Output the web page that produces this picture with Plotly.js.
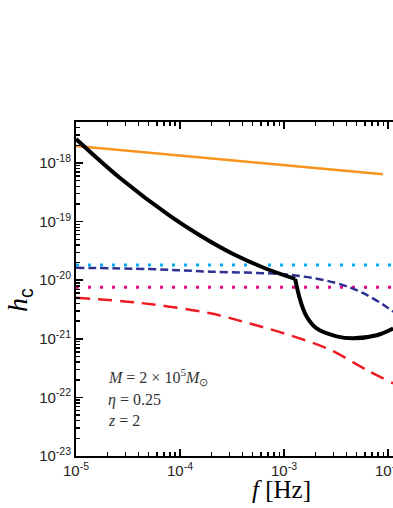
<!DOCTYPE html>
<html>
<head>
<meta charset="utf-8">
<script src="https://cdn.plot.ly/plotly-3.0.1.min.js"></script>
<style>
  body { margin: 0; padding: 0; background: #fff; }
  #plot { width: 393px; height: 508px; }
</style>
</head>
<body>
<div id="plot"></div>
<script>
// values
let orangeF = [1e-5, 1e-4, 1e-3, 8.95e-3];
let orangeH = [1.95e-18, 1.34e-18, 9.2e-19, 6.45e-19];

// black curve: smooth part down to the kink, then the dip
let blackTopF = [1e-5, 2.65e-5, 8.0e-5, 1.56e-4, 3.24e-4, 6.56e-4, 1.28e-3];
let blackTopH = [2.57e-18, 5.55e-19, 1.25e-19, 5.8e-20, 2.8e-20, 1.6e-20, 1.05e-20];
let blackLowF = [1.28e-3, 1.43e-3, 1.65e-3, 2.06e-3, 3.2e-3, 4.6e-3, 7.8e-3, 1.12e-2];
let blackLowH = [1.05e-20, 4.6e-21, 2.4e-21, 1.5e-21, 1.1e-21, 1.02e-21, 1.15e-21, 1.5e-21];

let cyanF = [1e-5, 1.2e-2];
let cyanH = [1.82e-20, 1.82e-20];

let navyF = [1e-5, 5e-5, 1.95e-4, 1.15e-3, 3.2e-3, 5.8e-3, 9.7e-3, 1.12e-2];
let navyH = [1.63e-20, 1.55e-20, 1.4e-20, 1.23e-20, 8.9e-21, 6.0e-21, 3.5e-21, 2.9e-21];

let magentaF = [1e-5, 1.2e-2];
let magentaH = [7.6e-21, 7.6e-21];

let redF = [1e-5, 4.1e-5, 1.95e-4, 4.7e-4, 1.14e-3, 2.77e-3, 6.2e-3, 1.12e-2];
let redH = [5.0e-21, 4.1e-21, 2.72e-21, 1.82e-21, 1.15e-21, 6.5e-22, 2.95e-22, 1.74e-22];

let xDecades = [-5, -4, -3, -2];
let yDecades = [-23, -22, -21, -20, -19, -18];

// decade ticks get a label, 2..9 in between get none
function tickSet(decades) {
    let vals = [], text = [];
    for (let i = 0; i < decades.length; i++) {
        let k = decades[i];
        vals.push(Math.pow(10, k));
        text.push("10<sup>" + k + "</sup>");
        for (let m = 2; m <= 9; m++) {
            vals.push(m * Math.pow(10, k));
            text.push("");
        }
    }
    return { vals: vals, text: text };
}
let xT = tickSet(xDecades);
let yT = tickSet(yDecades);
let xMajor = xDecades.map(k => Math.pow(10, k));
let yMajor = yDecades.map(k => Math.pow(10, k));

let trace1 = { x: orangeF, y: orangeH, type: "scatter", mode: "lines", line: {color: "#F7941D", width: 2.5} };
let trace2 = { x: cyanF, y: cyanH, type: "scatter", mode: "lines", line: {color: "#00AEEF", width: 3, dash: "3px,9px"} };
let trace3 = { x: magentaF, y: magentaH, type: "scatter", mode: "lines", line: {color: "#EC008C", width: 3, dash: "3px,9px"} };
let trace4 = { x: navyF, y: navyH, type: "scatter", mode: "lines", line: {color: "#2E3192", width: 2.5, dash: "8px,4px", shape: "spline"} };
let trace5 = { x: redF, y: redH, type: "scatter", mode: "lines", line: {color: "#ED1C24", width: 2.5, dash: "14px,8px", shape: "spline"} };
let trace6 = { x: blackTopF, y: blackTopH, type: "scatter", mode: "lines", line: {color: "#000000", width: 4, shape: "spline"} };
let trace7 = { x: blackLowF, y: blackLowH, type: "scatter", mode: "lines", line: {color: "#000000", width: 4, shape: "spline"} };
// carries the longer decade ticks
let trace8 = { x: orangeF, y: orangeH, xaxis: "x2", yaxis: "y2", type: "scatter", mode: "lines", opacity: 0, hoverinfo: "skip" };

let serif = "Liberation Serif, Times New Roman, serif";
let sans = "Liberation Sans, Arial, sans-serif";

let layout = {
    width: 393, height: 508,
    margin: { l: 76, r: 0, t: 122, b: 52 },
    showlegend: false,
    paper_bgcolor: "#fff", plot_bgcolor: "#fff",
    font: { family: sans, size: 15, color: "#222" },
    xaxis: {
        type: "log", range: [-5, -1.952],
        showline: true, linecolor: "#000", linewidth: 2, mirror: "ticks",
        ticks: "inside", ticklen: 4, tickwidth: 1.5, tickcolor: "#000",
        tickmode: "array", tickvals: xT.vals, ticktext: xT.text,
        tickfont: { family: sans, size: 15, color: "#222" }, ticklabeloverflow: "allow",
        showgrid: false, zeroline: false
    },
    yaxis: {
        type: "log", range: [-23, -17.3],
        showline: true, linecolor: "#000", linewidth: 2, mirror: false,
        ticks: "inside", ticklen: 4, tickwidth: 1.5, tickcolor: "#000",
        tickmode: "array", tickvals: yT.vals, ticktext: yT.text,
        tickfont: { family: sans, size: 15, color: "#222" },
        showgrid: false, zeroline: false
    },
    xaxis2: {
        type: "log", range: [-5, -1.952], overlaying: "x", anchor: "y",
        showline: false, mirror: "ticks",
        ticks: "inside", ticklen: 7, tickwidth: 1.6, tickcolor: "#000",
        tickmode: "array", tickvals: xMajor, showticklabels: false,
        showgrid: false, zeroline: false
    },
    yaxis2: {
        type: "log", range: [-23, -17.3], overlaying: "y", anchor: "x", side: "left",
        showline: false, mirror: false,
        ticks: "inside", ticklen: 7, tickwidth: 1.6, tickcolor: "#000",
        tickmode: "array", tickvals: yMajor, showticklabels: false,
        showgrid: false, zeroline: false
    },
    annotations: [
        { text: "<i>h</i><sub><span style=\"font-family:Liberation Sans\">c</span></sub>", xref: "paper", yref: "paper",
          x: -0.18, y: 0.467, xanchor: "center", yanchor: "middle", textangle: -90, showarrow: false,
          font: { family: serif, size: 28, color: "#000" } },
        { text: "<i>f</i> [Hz]", xref: "paper", yref: "paper", x: 0.647, y: -0.1, xanchor: "center", yanchor: "middle",
          showarrow: false, font: { family: serif, size: 25, color: "#000" } },
        { text: "<i>M</i> = 2 × 10<sup>5</sup><i>M</i><sub>⊙</sub>", xref: "paper", yref: "paper", x: 0.0946, y: 0.2365,
          xanchor: "left", yanchor: "middle", showarrow: false, font: { family: serif, size: 16, color: "#333" } },
        { text: "<i>η</i> = 0.25", xref: "paper", yref: "paper", x: 0.0946, y: 0.1677,
          xanchor: "left", yanchor: "middle", showarrow: false, font: { family: serif, size: 16, color: "#333" } },
        { text: "<i>z</i> = 2", xref: "paper", yref: "paper", x: 0.0946, y: 0.1048,
          xanchor: "left", yanchor: "middle", showarrow: false, font: { family: serif, size: 16, color: "#333" } }
    ]
};

let data = [trace8, trace1, trace2, trace3, trace4, trace5, trace6, trace7];

Plotly.newPlot("plot", data, layout, { staticPlot: true });
</script>
</body>
</html>
